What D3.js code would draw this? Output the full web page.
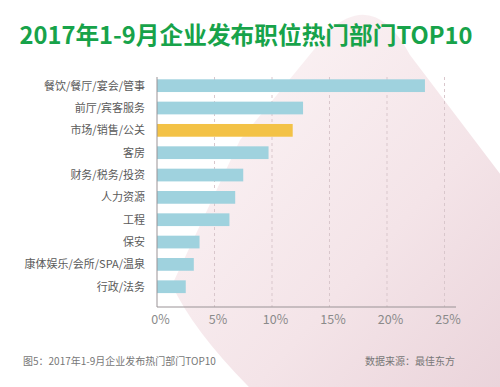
<!DOCTYPE html>
<html>
<head>
<meta charset="utf-8">
<script src="https://cdn.jsdelivr.net/npm/d3@7"></script>
<style>
  body { margin: 0; background: #fff; }
  svg { display: block; font-family: "Noto Sans CJK SC", "Noto Sans", sans-serif; }
</style>
</head>
<body>
<svg id="chart" width="500" height="387"></svg>
<script>
const categories = ["餐饮/餐厅/宴会/管事", "前厅/宾客服务", "市场/销售/公关", "客房", "财务/税务/投资",
    "人力资源", "工程", "保安", "康体娱乐/会所/SPA/温泉", "行政/法务"];
const values = [23.3, 12.7, 11.8, 9.7, 7.5, 6.8, 6.3, 3.7, 3.2, 2.5];
const highlighted = "市场/销售/公关";
const tickValues = [0, 5, 10, 15, 20, 25];

const svg = d3.select("#chart");

// soft pink backdrop shape
const defs = svg.append("defs");
const grad = defs.append("linearGradient")
    .attr("id", "bg")
    .attr("x1", "0%").attr("y1", "0%")
    .attr("x2", "100%").attr("y2", "100%");
grad.append("stop").attr("offset", "0%").attr("stop-color", "#fdf7f8");
grad.append("stop").attr("offset", "60%").attr("stop-color", "#f4e4e8");
grad.append("stop").attr("offset", "100%").attr("stop-color", "#e9d2d9");

svg.append("path")
    .attr("d", "M 330,30 Q 375,-10 410,55 L 520,200 L 520,400 L 262,400 Q 195,335 172,285 L 240,140 Z")
    .attr("fill", "url(#bg)");

const x = d3.scaleLinear().domain([0, 25]).range([157, 444.5]);
const y = d3.scaleBand().domain(categories).range([74.5, 297.9])
    .paddingInner(0.43).paddingOuter(0.215);

const plotTop = 77, plotBottom = 307;

// dashed grid
svg.append("g")
    .selectAll("line")
    .data(tickValues.slice(1))
    .join("line")
    .attr("x1", d => x(d)).attr("x2", d => x(d))
    .attr("y1", plotTop).attr("y2", plotBottom)
    .attr("stroke", "#d9c7cc")
    .attr("stroke-width", 1)
    .attr("stroke-dasharray", "3,3");

// bars
svg.append("g")
    .selectAll("rect")
    .data(values)
    .join("rect")
    .attr("x", x(0))
    .attr("y", (d, i) => y(categories[i]))
    .attr("width", d => x(d) - x(0))
    .attr("height", y.bandwidth())
    .attr("fill", (d, i) => categories[i] === highlighted ? "#f3c246" : "#9fd2de");

// axes lines
svg.append("line")
    .attr("x1", x(0)).attr("x2", x(0))
    .attr("y1", plotTop).attr("y2", plotBottom)
    .attr("stroke", "#9a9396").attr("stroke-width", 1);
svg.append("line")
    .attr("x1", x(0)).attr("x2", 456)
    .attr("y1", plotBottom).attr("y2", plotBottom)
    .attr("stroke", "#9a9396").attr("stroke-width", 1);

// category labels
svg.append("g")
    .selectAll("text")
    .data(categories)
    .join("text")
    .attr("x", 145)
    .attr("y", d => y(d) + y.bandwidth() / 2)
    .attr("dy", "0.35em")
    .attr("text-anchor", "end")
    .attr("font-size", 11)
    .attr("fill", "#5a5a5a")
    .text(d => d);

// tick labels
svg.append("g")
    .selectAll("text")
    .data(tickValues)
    .join("text")
    .attr("x", d => x(d) + 3.5)
    .attr("y", 324)
    .attr("text-anchor", "middle")
    .attr("font-size", 12.5)
    .attr("fill", "#8a8a8a")
    .text(d => d + "%");

// title
svg.append("text")
    .attr("x", 246)
    .attr("y", 44)
    .attr("text-anchor", "middle")
    .attr("font-size", 23.7)
    .attr("font-weight", "bold")
    .attr("fill", "#17a34a")
    .text("2017年1-9月企业发布职位热门部门TOP10");

// footer
svg.append("text")
    .attr("x", 23)
    .attr("y", 365)
    .attr("font-size", 10)
    .attr("fill", "#777")
    .text("图5：2017年1-9月企业发布热门部门TOP10");
svg.append("text")
    .attr("x", 455)
    .attr("y", 365)
    .attr("text-anchor", "end")
    .attr("font-size", 10)
    .attr("fill", "#777")
    .text("数据来源：最佳东方");
</script>
</body>
</html>
